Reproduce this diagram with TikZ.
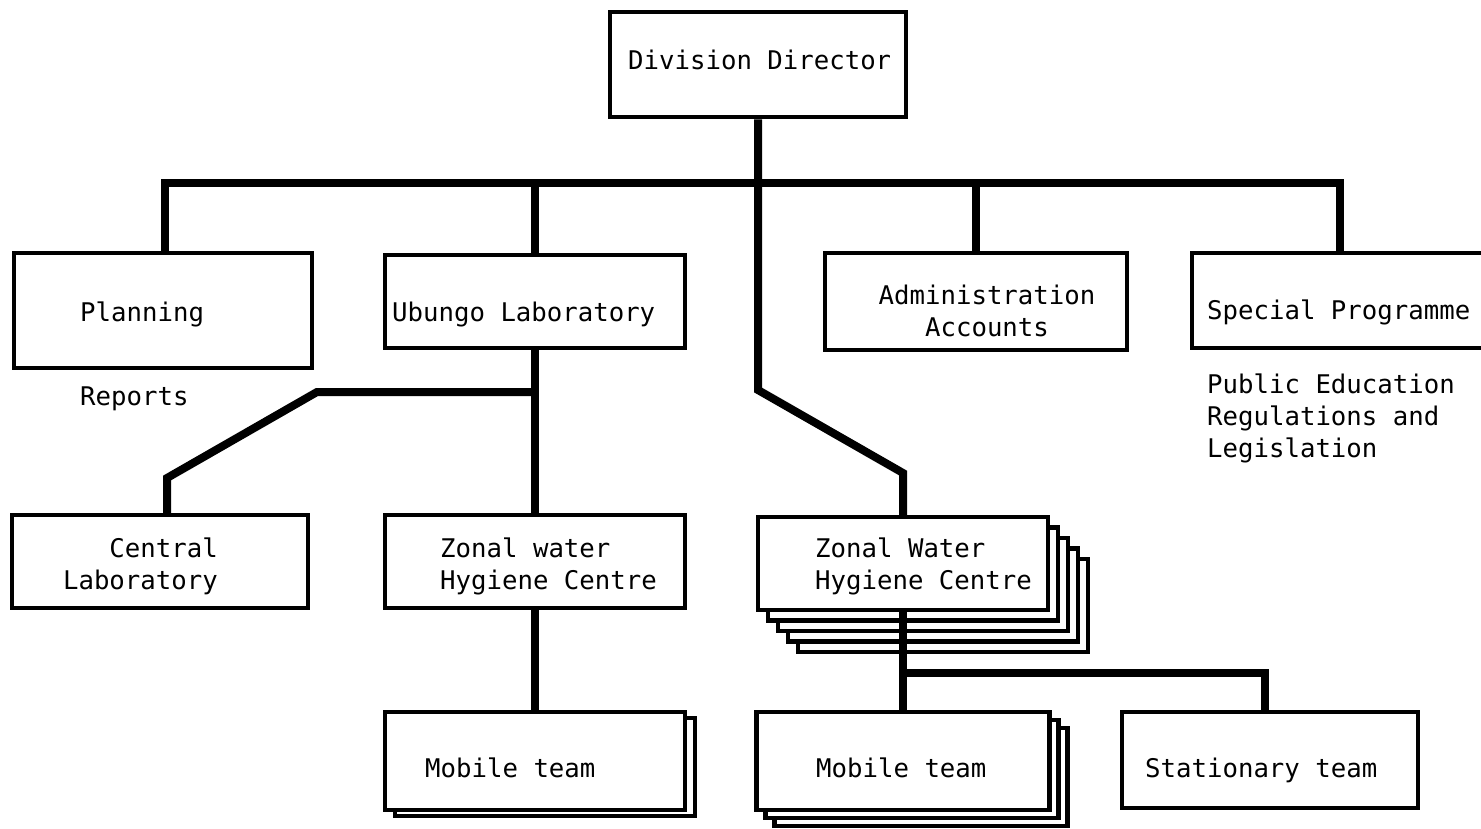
\documentclass[tikz,border=0pt]{standalone}
\usepackage{fontspec}
\newfontfamily\typew{DejaVu Sans Mono}
\begin{document}
\begin{tikzpicture}[x=1pt,y=-1pt,
  box/.style={draw, line width=4.5pt, fill=white, inner sep=0pt, rectangle},
  conn/.style={line width=8pt},
  lbl/.style={inner sep=0pt, font=\typew\fontsize{25.7}{32}\selectfont, anchor=base west, align=left},
]
\useasboundingbox (0,0) rectangle (1481,828);
\clip (0,0) rectangle (1481,828);

% ---- top level
\node[box, minimum width=296, minimum height=105] (dir) at (758,64.5) {};
\node[box, minimum width=298, minimum height=115] (plan) at (163,310.5) {};
\node[box, minimum width=300, minimum height=93] (ubu) at (535,301.5) {};
\node[box, minimum width=302, minimum height=97] (adm) at (976,301.5) {};
\node[box, minimum width=292, minimum height=95] (spc) at (1338,300.5) {};

% ---- second level
\node[box, minimum width=296, minimum height=93] (cen) at (160,561.5) {};
\node[box, minimum width=300, minimum height=93] (zw1) at (535,561.5) {};
% stacked zonal centres, back to front
\foreach \k in {4,3,2,1}
  \node[box, minimum width=290, minimum height=93] (zw2-\k) at (903+10*\k,563.5+10.5*\k) {};
\node[box, minimum width=290, minimum height=93] (zw2) at (903,563.5) {};

% ---- teams
\node[box, minimum width=300, minimum height=98] (mob1-1) at (545,767) {};
\node[box, minimum width=300, minimum height=98] (mob1) at (535,761) {};
\foreach \k in {2,1}
  \node[box, minimum width=293, minimum height=98] (mob2-\k) at (903+9*\k,761+8*\k) {};
\node[box, minimum width=293, minimum height=98] (mob2) at (903,761) {};
\node[box, minimum width=296, minimum height=96] (sta) at (1270,760) {};

% ---- connectors
\coordinate (barL) at (165,183);
\coordinate (barR) at (1340,183);
\coordinate (t1) at (758,390);
\coordinate (t2) at (903,473);
\coordinate (u1) at (535,392);
\coordinate (u2) at (317,392);
\coordinate (u3) at (167,478);
\coordinate (s2) at (1265,673);

\draw[conn] (dir.south) -- (t1) -- (t2) -- (t2 |- zw2.north);
\draw[conn] (barL |- plan.north) -- (barL) -- (barR) -- (barR |- spc.north);
\draw[conn] (ubu.north) -- (ubu.north |- barL);
\draw[conn] (adm.north) -- (adm.north |- barL);
\draw[conn] (ubu.south) -- (zw1.north);
\draw[conn] (u1) -- (u2) -- (u3) -- (u3 |- cen.north);
\draw[conn] (zw1.south) -- (mob1.north);
\draw[conn] (zw2.south) -- (mob2.north);
\draw[conn] (zw2.south |- s2) -- (s2) -- (s2 |- sta.north);

% ---- texts (multi-line nodes sit on the baseline of their last line)
\node[lbl] (tdir) at (628,69.4) {Division Director};
\node[lbl] (tplan) at (80,321.4) {Planning};
\node[lbl] (tubu) at (392,321.4) {Ubungo Laboratory};
\node[lbl, anchor=base, align=center] (tadm) at (987,336.4) {Administration\\Accounts};
\node[lbl] (tspc) at (1207,319.4) {Special Programme};
\node[lbl] (trep) at (80,405.4) {Reports};
\node[lbl] (tpub) at (1207,457.4) {Public Education\\Regulations and\\Legislation};
\node[lbl, anchor=base east, align=right] (tcen) at (218,589.4) {Central\\Laboratory};
\node[lbl] (tzw1) at (440,589.4) {Zonal water\\Hygiene Centre};
\node[lbl] (tzw2) at (815,589.4) {Zonal Water\\Hygiene Centre};
\node[lbl] (tmob1) at (425,777.4) {Mobile team};
\node[lbl] (tmob2) at (816,777.4) {Mobile team};
\node[lbl] (tsta) at (1145,777.4) {Stationary team};
\end{tikzpicture}
\end{document}
